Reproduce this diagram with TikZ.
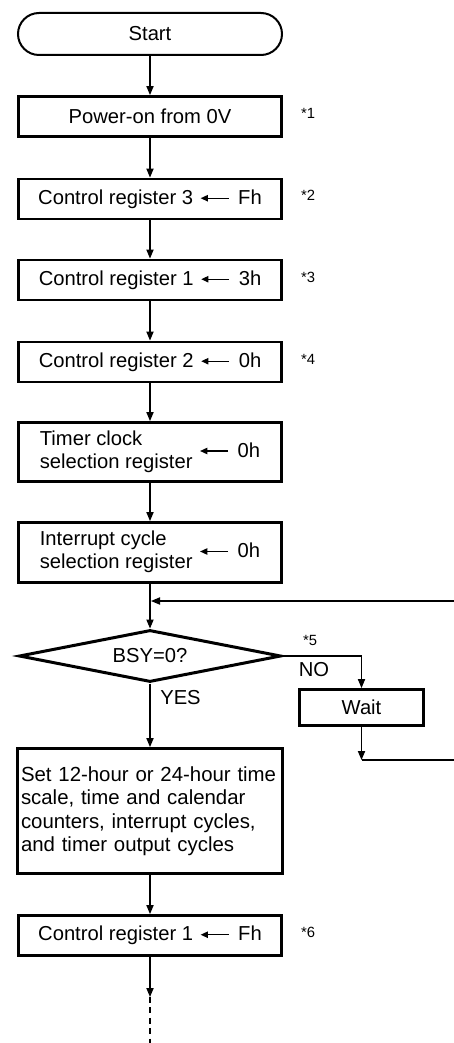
\documentclass[tikz,border=0pt]{standalone}
\usepackage{fontspec}
\setmainfont{Liberation Sans}
\usetikzlibrary{arrows.meta,shapes.geometric}
\newcommand\regarrow{\tikz[baseline={(0,-3pt)}]\draw[line width=0.55pt,-{Triangle[length=3.6pt,width=3.2pt]}] (14pt,0) -- (0,0);}
\newcommand\regset[2]{#1\hspace{3.5pt}\regarrow\hspace{4.5pt}#2}
\begin{document}
\begin{tikzpicture}[x=0.5pt,y=-0.5pt,
  every node/.style={font=\fontsize{10.1}{11.6}\selectfont},
  box/.style={draw,line width=1.45pt,minimum width=131.5pt,minimum height=20pt,inner sep=0pt},
  term/.style={draw,line width=1pt,rounded corners=10.5pt,minimum width=132pt,minimum height=21pt,inner sep=0pt},
  decide/.style={draw,diamond,aspect=5,line width=1.5pt,minimum width=131pt,minimum height=26pt,inner sep=0pt},
  conn/.style={line width=0.6pt,-{Triangle[length=4.5pt,width=3.6pt]}},
  plain/.style={line width=0.6pt},
  note/.style={inner sep=0pt,font=\fontsize{7.4}{8}\selectfont},
  lbl/.style={inner sep=0pt}]
\useasboundingbox (0,0) rectangle (454,1043);
\node[term] (start) at (150,34) {Start};
\node[box] (p0) at (150,116.5) {Power-on from 0V};
\node[box] (cr3) at (150,199) {\regset{Control register 3}{Fh}};
\node[box] (cr1) at (150,280) {\regset{Control register 1}{3h}};
\node[box] (cr2) at (150,362) {\regset{Control register 2}{0h}};
\node[box,minimum height=29.5pt] (tcs) at (150,452) {\regset{\begin{tabular}{@{}l@{}}Timer clock\\selection register\end{tabular}}{0h}};
\node[box,minimum height=30pt] (ics) at (150,552.5) {\regset{\begin{tabular}{@{}l@{}}Interrupt cycle\\selection register\end{tabular}}{0h}};
\coordinate (merge) at (151,601);
\node[decide] (dia) at (150,656) {BSY=0?};
\node[box,minimum width=62pt,minimum height=18pt] (wait) at (361.5,707.5) {Wait};
\node[box,minimum height=62.5pt,text width=129pt,inner xsep=1.6pt,align=left,font=\fontsize{10.2}{11.75}\selectfont] (set) at (150,811) {Set 12-hour or 24-hour time\\scale, time and calendar\\counters, interrupt cycles,\\and timer output cycles};
\node[box] (cr1b) at (150,935.5) {\regset{Control register 1}{Fh}};
\coordinate (wb) at (361.5,760);
\coordinate (re) at (454,760);
\coordinate (rt) at (454,601);
\coordinate (endA) at (150,997);
\coordinate (endB) at (150,1043);
\node[note] (s1) at (308,113) {*1};
\node[note] (s2) at (308,195) {*2};
\node[note] (s3) at (308,277) {*3};
\node[note] (s4) at (308,359) {*4};
\node[note] (s5) at (310,640) {*5};
\node[note] (s6) at (308,932) {*6};
\node[lbl] (no) at (314,670) {NO};
\node[lbl] (yes) at (180.5,698) {YES};
\draw[conn] (start) -- (p0);
\draw[conn] (p0) -- (cr3);
\draw[conn] (cr3) -- (cr1);
\draw[conn] (cr1) -- (cr2);
\draw[conn] (cr2) -- (tcs);
\draw[conn] (tcs) -- (ics);
\draw[conn] (ics) -- (dia);
\draw[conn] (rt) -- (merge);
\draw[conn] (dia.east) -| (wait.north);
\draw[conn] (wait.south) -- (wb);
\draw[plain] (wb) -- (re);
\draw[conn] (dia) -- (set);
\draw[conn] (set) -- (cr1b);
\draw[conn] (cr1b) -- (endA);
\draw[plain,dash pattern=on 3pt off 2.2pt] (endA) -- (endB);
\end{tikzpicture}
\end{document}
